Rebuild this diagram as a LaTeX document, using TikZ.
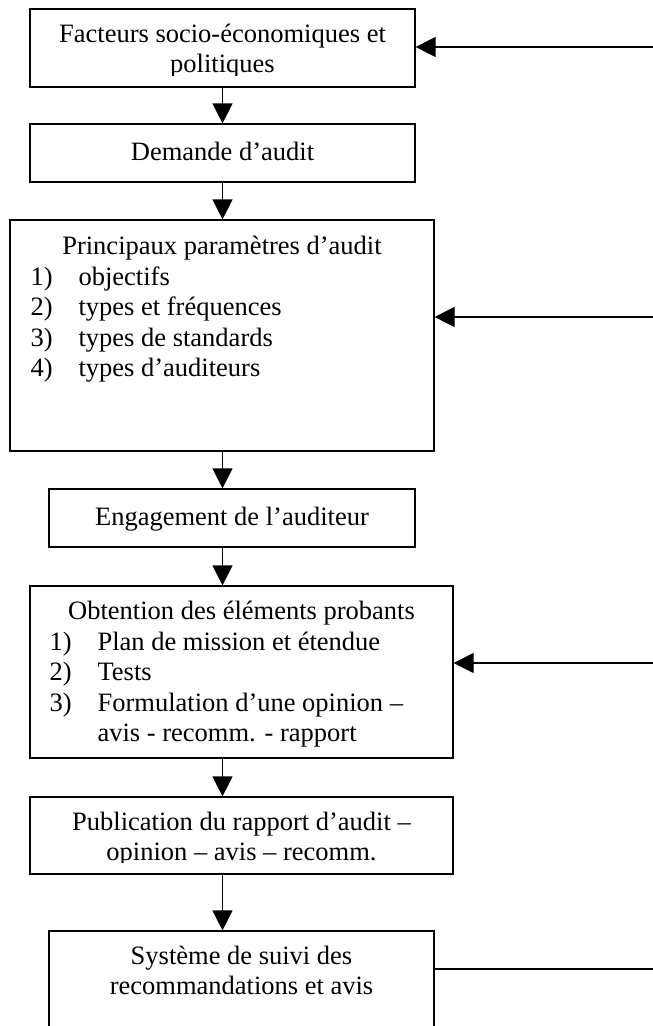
\documentclass[tikz,border=0pt]{standalone}
\usepackage{fontspec}
\setmainfont{Liberation Serif}
\usetikzlibrary{positioning,calc,arrows.meta}

\begin{document}
\begin{tikzpicture}[x=1pt,y=-1pt]
	\tikzset{
		box/.style={draw,line width=1.2pt,inner sep=0pt},
		txt/.style={inner sep=0pt,align=center,font=\fontsize{26.5}{30.4}\selectfont},
		flow/.style={line width=1.2pt,-{Triangle[length=20pt,width=20pt]}},
	}
	\useasboundingbox (0,0) rectangle (653,1026);
	\clip (0,0) rectangle (653,1026);
	%
	\node[box,minimum width=385pt,minimum height=78pt] (fact) at (222.5,48) {};
	\node[box,minimum width=385pt,minimum height=58pt] (dem) at (222.5,153) {};
	\node[box,minimum width=424pt,minimum height=231pt] (prin) at (222,335.5) {};
	\node[box,minimum width=366pt,minimum height=58pt] (eng) at (232,518) {};
	\node[box,minimum width=423pt,minimum height=172pt] (obt) at (241.5,672) {};
	\node[box,minimum width=423pt,minimum height=77pt] (pub) at (241.5,835.5) {};
	\node[box,minimum width=385pt,minimum height=109pt] (suiv) at (241.5,985.5) {};
	%
	\begin{scope}
		\clip (fact.north west) rectangle ($(fact.south east)+(0,-12)$);
		\node[txt,below=12.7pt of fact.north] (factT) {\strut Facteurs socio-économiques et\\\strut politiques};
	\end{scope}
	\node[txt,below=15.5pt of dem.north] (demT) {\strut Demande d’audit};
	\node[txt,below=13.7pt of prin.north] (prinT) {\strut Principaux paramètres d’audit};
	\node[txt,align=left,anchor=north west] (prinL) at ($(prinT.south -| prin.west)+(21,0)$)
		{\strut\makebox[48pt][l]{1)}objectifs\\
		\strut\makebox[48pt][l]{2)}types et fréquences\\
		\strut\makebox[48pt][l]{3)}types de standards\\
		\strut\makebox[48pt][l]{4)}types d’auditeurs};
	\node[txt,below=15.7pt of eng.north] (engT) {\strut Engagement de l’auditeur};
	\node[txt,below=12.7pt of obt.north] (obtT) {\strut Obtention des éléments probants};
	\node[txt,align=left,anchor=north west] (obtL) at ($(obtT.south -| obt.west)+(20,0)$)
		{\strut\makebox[48pt][l]{1)}Plan de mission et étendue\\
		\strut\makebox[48pt][l]{2)}Tests\\
		\strut\makebox[48pt][l]{3)}Formulation d’une opinion –\\
		\strut\hspace*{48pt}avis - recomm. - rapport};
	\begin{scope}
		\clip (pub.north west) rectangle ($(pub.south east)+(0,-12)$);
		\node[txt,below=12.7pt of pub.north] (pubT) {\strut Publication du rapport d’audit –\\\strut opinion – avis – recomm.};
	\end{scope}
	\node[txt,below=12.7pt of suiv.north] (suivT) {\strut Système de suivi des\\\strut recommandations et avis};
	%
	\coordinate (factR) at (653,47);
	\coordinate (prinR) at (653,317);
	\coordinate (obtR) at (653,663);
	\coordinate (suivR) at (653,969);
	%
	\draw[flow] (fact.south) -- (dem.north);
	\draw[flow] (dem.south) -- (dem.south |- prin.north);
	\draw[flow] (dem.south |- prin.south) -- (dem.south |- eng.north);
	\draw[flow] (dem.south |- eng.south) -- (dem.south |- obt.north);
	\draw[flow] (dem.south |- obt.south) -- (dem.south |- pub.north);
	\draw[flow] (dem.south |- pub.south) -- (dem.south |- suiv.north);
	%
	\draw[flow] (factR) -- (factR -| fact.east);
	\draw[flow] (prinR) -- (prinR -| prin.east);
	\draw[flow] (obtR) -- (obtR -| obt.east);
	\draw[line width=1.2pt] (suivR -| suiv.east) -- (suivR);
\end{tikzpicture}
\end{document}
